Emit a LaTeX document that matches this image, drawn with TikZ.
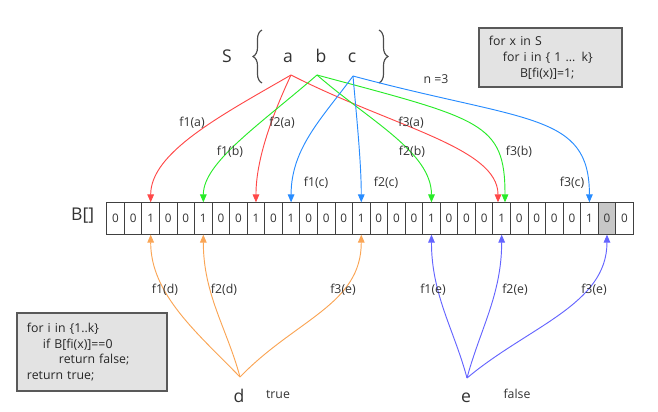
\documentclass[tikz,border=0pt]{standalone}
\usepackage{fontspec}
\setmainfont{Open Sans}
\usetikzlibrary{arrows.meta,positioning,decorations.pathreplacing}
\definecolor{hashred}{RGB}{255,72,72}
\definecolor{hashgreen}{RGB}{40,235,40}
\definecolor{hashblue}{RGB}{40,140,255}
\definecolor{qryorange}{RGB}{250,165,85}
\definecolor{qryblue}{RGB}{100,100,255}
\tikzset{
  bitcell/.style={rectangle, draw=black!75, line width=0.7pt, minimum width=0.5265cm,
    minimum height=0.945cm, inner sep=0pt, font=\fontsize{10}{12}\selectfont, text=black!80},
  codebox/.style={rectangle, draw=black!65, line width=1.2pt, fill=black!11, align=left,
    inner xsep=0.3cm, inner ysep=0pt, font=\fontsize{10.5}{13.5}\selectfont, text=black!85},
  bigtxt/.style={font=\fontsize{15}{18}\selectfont, text=black!80, inner sep=0pt},
  smalltxt/.style={font=\fontsize{10.5}{12}\selectfont, text=black!80, inner sep=0pt},
  hash/.style={-{Triangle[length=2.4mm,width=2mm]}, line width=0.8pt},
  setbrace/.style={decorate, decoration={brace, amplitude=0.27cm}, line width=1pt, draw=black!70},
}
\begin{document}
\begin{tikzpicture}[x=0.03cm, y=-0.03cm]
  \useasboundingbox (0,0) rectangle (658,412);
  % the set S = {a, b, c}
  \node[bigtxt, anchor=base] (setS) at (227,62) {S};
  \node[bigtxt, anchor=base] (ela) at (288,62) {a};
  \node[bigtxt, anchor=base] (elb) at (321,62) {b};
  \node[bigtxt, anchor=base] (elc) at (352,62) {c};
  \draw[setbrace] (262,83) -- (262,30);
  \draw[setbrace] (379,30) -- (379,83);
  \node[smalltxt, anchor=base] (nk) at (436,83) {n =3};
  \coordinate (pa) at (291,75);
  \coordinate (pb) at (317,75);
  \coordinate (pc) at (353,76);

  % code boxes
  \node[codebox, minimum width=4.29cm, minimum height=1.77cm, text width=3.69cm] (ins) at (550.5,57.5)
    {for x in S\\\hspace*{0.42cm}for i in \{ 1 ... k\}\\\hspace*{0.93cm}B[fi(x)]=1;};
  \node[codebox, minimum width=4.5cm, minimum height=2.34cm, text width=3.9cm] (qry) at (92,352)
    {for i in \{1..k\}\\\hspace*{0.48cm}if B[fi(x)]==0\\\hspace*{0.96cm}return false;\\return true;};

  % bit array
  \foreach \v [count=\i from 0] in {0,0,1,0,0,1,0,0,1,0,1,0,0,0,1,0,0,0,1,0,0,0,1,0,0,0,0,1,0,0} {
    \ifnum\i=28 \def\cellfill{black!22}\else\def\cellfill{white}\fi
    \node[bitcell, fill=\cellfill] (b\i) at ({106.8+17.55*(\i+0.5)},218.5) {\v};
  }
  \draw[line width=1.3pt, black!75] (b0.north west) rectangle (b29.south east);
  \node[bigtxt, left=0.36cm of b0.west, yshift=0.1cm] (arrB) {B[]};

  % insert: hash arrows
  \draw[hash, hashred] (pa) to[out=210, in=90, out distance=2.4cm, in distance=1.5cm] (b2.north);
  \draw[hash, hashred] (pa) to[out=245, in=90, out distance=1.2cm, in distance=1.35cm] (b8.north);
  \draw[hash, hashred] (pa) to[out=333, in=90, out distance=3.45cm, in distance=1.65cm] ([xshift=-0.11cm]b22.north);
  \draw[hash, hashgreen] (pb) to[out=221, in=90, out distance=2.25cm, in distance=1.2cm] (b5.north);
  \draw[hash, hashgreen] (pb) to[out=319, in=90, out distance=2.1cm, in distance=1.5cm] (b18.north);
  \draw[hash, hashgreen] (pb) to[out=345, in=90, out distance=5.1cm, in distance=2.4cm] ([xshift=0.1cm]b22.north);
  \draw[hash, hashblue] (pc) to[out=234, in=90, out distance=1.5cm, in distance=1.65cm] (b10.north);
  \draw[hash, hashblue] (pc) to[out=275, in=90, out distance=1.2cm, in distance=1.2cm] (b14.north);
  \draw[hash, hashblue] (pc) to[out=345, in=90, out distance=5.4cm, in distance=2.7cm] (b27.north);
  \node[smalltxt] (la1) at (192,123) {f1(a)};
  \node[smalltxt] (la2) at (282,123) {f2(a)};
  \node[smalltxt] (la3) at (411,123) {f3(a)};
  \node[smalltxt] (lb1) at (230,152) {f1(b)};
  \node[smalltxt] (lb2) at (412,152) {f2(b)};
  \node[smalltxt] (lb3) at (519,152) {f3(b)};
  \node[smalltxt] (lc1) at (316,183) {f1(c)};
  \node[smalltxt] (lc2) at (386,183) {f2(c)};
  \node[smalltxt] (lc3) at (572,183) {f3(c)};

  % query: d and e
  \node[bigtxt, anchor=base] (eld) at (239,402) {d};
  \node[smalltxt, anchor=base] (tru) at (278,398) {true};
  \node[bigtxt, anchor=base] (ele) at (466,402) {e};
  \node[smalltxt, anchor=base] (fls) at (517,398) {false};
  \coordinate (pd) at (240,377);
  \coordinate (pe) at (467,378);
  \draw[hash, qryorange] (pd) to[out=134, in=-90, out distance=1.8cm, in distance=1.8cm] (b2.south);
  \draw[hash, qryorange] (pd) to[out=105, in=-90, out distance=1.5cm, in distance=1.8cm] (b5.south);
  \draw[hash, qryorange] (pd) to[out=46, in=-90, out distance=2.4cm, in distance=2.1cm] (b14.south);
  \draw[hash, qryblue] (pe) to[out=105, in=-90, out distance=1.5cm, in distance=1.8cm] (b18.south);
  \draw[hash, qryblue] (pe) to[out=75, in=-90, out distance=1.5cm, in distance=1.8cm] (b22.south);
  \draw[hash, qryblue] (pe) to[out=40, in=-90, out distance=2.4cm, in distance=2.1cm] (b28.south);
  \node[smalltxt] (ld1) at (165,290) {f1(d)};
  \node[smalltxt] (ld2) at (224,290) {f2(d)};
  \node[smalltxt] (ld3) at (343,290) {f3(e)};
  \node[smalltxt] (le1) at (433,290) {f1(e)};
  \node[smalltxt] (le2) at (515,290) {f2(e)};
  \node[smalltxt] (le3) at (594,290) {f3(e)};
\end{tikzpicture}
\end{document}
